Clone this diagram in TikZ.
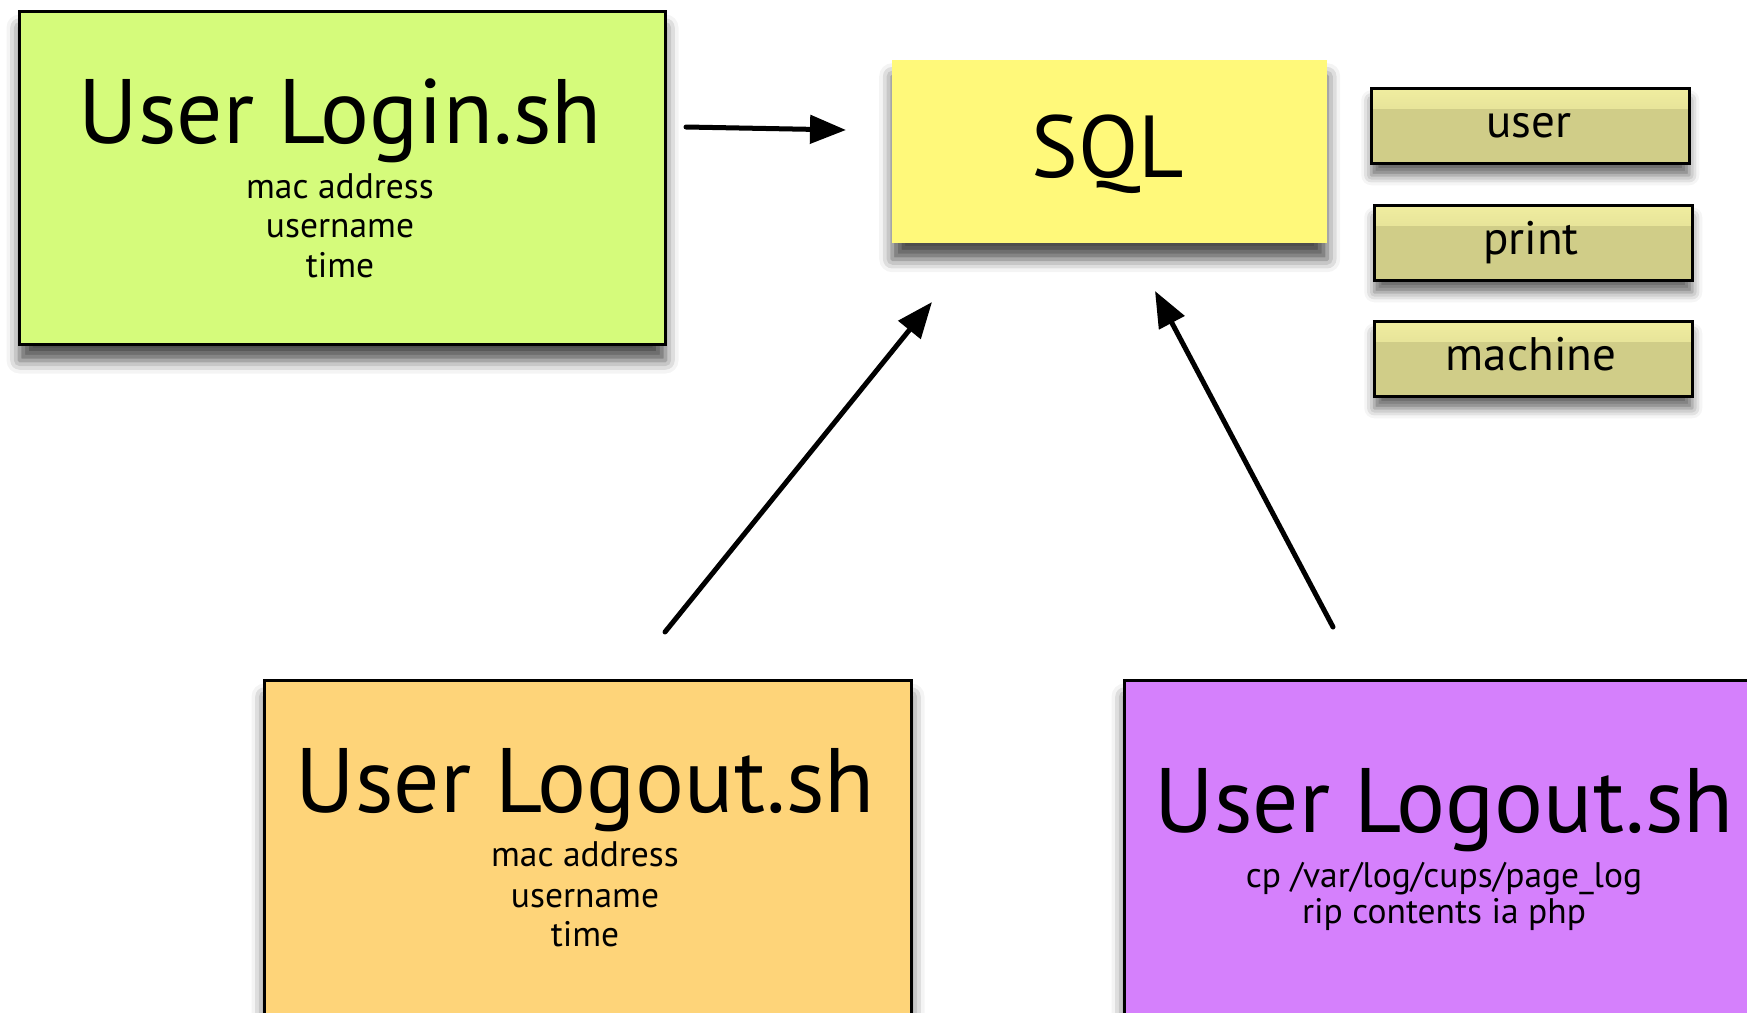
\documentclass[tikz,border=0pt]{standalone}
\usepackage{fontspec}
\setmainfont{PT Sans}
\usetikzlibrary{arrows.meta,shadows.blur}
\definecolor{loginc}{HTML}{D5FB7B}
\definecolor{outa}{HTML}{FED479}
\definecolor{outb}{HTML}{D580FC}
\definecolor{sqlc}{HTML}{FFF97A}
\definecolor{tabc}{HTML}{D0CD88}
\definecolor{tabtop}{HTML}{F0EDA0}
\tikzset{
  box/.style={draw=black, line width=3pt, anchor=north west, inner sep=0pt,
    blur shadow={shadow xshift=0pt, shadow yshift=-16pt, shadow blur radius=13pt, shadow opacity=70}},
  sqlbox/.style={fill=sqlc, anchor=north west, inner sep=0pt,
    blur shadow={shadow xshift=0pt, shadow yshift=-16pt, shadow blur radius=13pt, shadow opacity=70}},
  tab/.style={draw=black, line width=2.5pt, fill=tabc, anchor=north west, inner sep=0pt,
    minimum width=318pt, minimum height=75pt,
    blur shadow={shadow xshift=0pt, shadow yshift=-12pt, shadow blur radius=10pt, shadow opacity=60},
    path picture={\fill[top color=tabtop, bottom color=tabc]
      (path picture bounding box.north west) rectangle ([yshift=-20pt]path picture bounding box.north east);}},
  title/.style={anchor=base, inner sep=0pt, font=\fontsize{91.5}{100}\selectfont},
  sqltext/.style={anchor=base, inner sep=0pt, font=\fontsize{88}{100}\selectfont},
  sub/.style={anchor=base, inner sep=0pt, font=\fontsize{35.5}{40}\selectfont},
  tabtext/.style={anchor=base, inner sep=0pt, font=\fontsize{47}{50}\selectfont},
  conn/.style={line width=5pt, line cap=round, -{Triangle[length=36pt, width=28pt]}}
}
\begin{document}
\begin{tikzpicture}[x=1pt, y=-1pt]
\useasboundingbox (0,0) rectangle (1747,1012);
% boxes
\node[box, fill=loginc, minimum width=646pt, minimum height=333pt] (login) at (18,10) {};
\node[sqlbox, minimum width=435pt, minimum height=183pt] (sql) at (892,60) {};
\node[tab] (tuser) at (1370,87) {};
\node[tab] (tprint) at (1373,204) {};
\node[tab] (tmach) at (1373,320) {};
\node[box, fill=outa, minimum width=647pt, minimum height=340pt] (logouta) at (263,679) {};
\node[box, fill=outb, minimum width=660pt, minimum height=340pt] (logoutb) at (1123,679) {};
% texts
\node[title] (logint) at (340,143) {User Login.sh};
\node[sub] (login1) at (340,198) {mac address};
\node[sub] (login2) at (340,237) {username};
\node[sub] (login3) at (340,277) {time};
\node[sqltext] (sqlt) at (1108,177) {SQL};
\node[tabtext] (tusert) at (1529,137) {user};
\node[tabtext] (tprintt) at (1531,254) {print};
\node[tabtext] (tmacht) at (1531,370) {machine};
\node[title] (logoutat) at (585,812) {User Logout.sh};
\node[sub] (logouta1) at (585,866) {mac address};
\node[sub] (logouta2) at (585,907) {username};
\node[sub] (logouta3) at (585,946) {time};
\node[title] (logoutbt) at (1444,832) {User Logout.sh};
\node[sub] (logoutb1) at (1444,887) {cp /var/log/cups/page\_log};
\node[sub] (logoutb2) at (1444,923) {rip contents ia php};
% connector ends
\coordinate (c1s) at (686,127);
\coordinate (c1e) at (846,130);
\coordinate (c2s) at (665,632);
\coordinate (c2e) at (932,302);
\coordinate (c3s) at (1333,627);
\coordinate (c3e) at (1155,291);
\draw[conn] (c1s) -- (c1e);
\draw[conn] (c2s) -- (c2e);
\draw[conn] (c3s) -- (c3e);
\end{tikzpicture}
\end{document}
